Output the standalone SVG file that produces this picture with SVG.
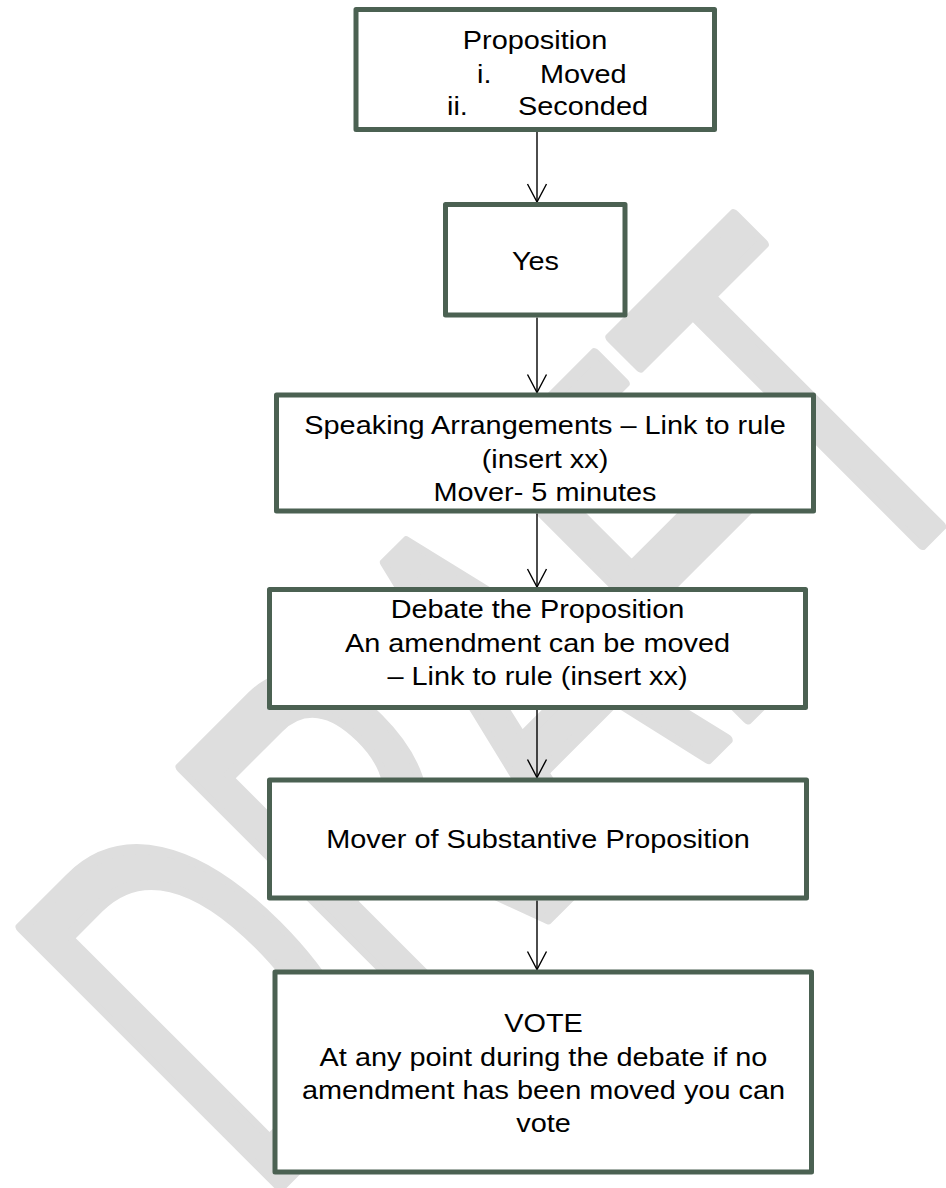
<svg xmlns="http://www.w3.org/2000/svg" width="946" height="1188" viewBox="0 0 946 1188">
  <defs>
    <style>
      .box { fill: #ffffff; stroke: #4b6152; stroke-width: 5; stroke-linejoin: round; }
      .lbl { font-family: "Liberation Sans", Arial, sans-serif; font-size: 26.5px; fill: #000000; }
      .mid { text-anchor: middle; }
      .conn { stroke: #000000; stroke-width: 1.4; fill: none; }
      .wm { font-family: "Liberation Sans", Arial, sans-serif; font-size: 531px; fill: #dedede; stroke: #dedede; stroke-width: 12; stroke-linejoin: round; }
    </style>
    <marker id="arrow" markerUnits="userSpaceOnUse" markerWidth="24" markerHeight="24" viewBox="-20 -12 24 24" refX="0" refY="0" orient="auto">
      <path d="M -18 -9.5 L 0 0 L -18 9.5" fill="none" stroke="#000000" stroke-width="1.4"/>
    </marker>
  </defs>
  <rect width="946" height="1188" fill="#ffffff"/>

  <g id="watermark">
    <text class="wm" x="-42" y="0" transform="translate(278,1188) rotate(-45) scale(0.59,1)">DRAFT</text>
  </g>

  <g id="connectors">
    <line class="conn" x1="537" y1="132" x2="537" y2="202" marker-end="url(#arrow)"/>
    <line class="conn" x1="537" y1="317.5" x2="537" y2="392.5" marker-end="url(#arrow)"/>
    <line class="conn" x1="537" y1="513.5" x2="537" y2="587" marker-end="url(#arrow)"/>
    <line class="conn" x1="537" y1="710" x2="537" y2="777.5" marker-end="url(#arrow)"/>
    <line class="conn" x1="537" y1="900.5" x2="537" y2="969.5" marker-end="url(#arrow)"/>
  </g>

  <g id="node-proposition">
    <rect class="box" x="356" y="9.5" width="358.5" height="120"/>
    <text class="lbl mid" transform="translate(535,49) scale(1.09,1)">Proposition</text>
    <text class="lbl" transform="translate(477,82.5) scale(1.09,1)">i.</text>
    <text class="lbl" transform="translate(540,82.5) scale(1.09,1)">Moved</text>
    <text class="lbl" transform="translate(447,115) scale(1.09,1)">ii.</text>
    <text class="lbl" transform="translate(518,115) scale(1.09,1)">Seconded</text>
  </g>

  <g id="node-yes">
    <rect class="box" x="445.5" y="204.5" width="179.5" height="110.5"/>
    <text class="lbl mid" transform="translate(535.5,270) scale(1.09,1)">Yes</text>
  </g>

  <g id="node-speaking">
    <rect class="box" x="276.5" y="395" width="537" height="116"/>
    <text class="lbl mid" transform="translate(545,434) scale(1.09,1)">Speaking Arrangements – Link to rule</text>
    <text class="lbl mid" transform="translate(545,467.5) scale(1.09,1)">(insert xx)</text>
    <text class="lbl mid" transform="translate(545,501) scale(1.09,1)">Mover- 5 minutes</text>
  </g>

  <g id="node-debate">
    <rect class="box" x="269.5" y="589.5" width="536" height="118"/>
    <text class="lbl mid" transform="translate(537.5,618) scale(1.09,1)">Debate the Proposition</text>
    <text class="lbl mid" transform="translate(537.5,651.5) scale(1.09,1)">An amendment can be moved</text>
    <text class="lbl mid" transform="translate(537.5,684.5) scale(1.09,1)">– Link to rule (insert xx)</text>
  </g>

  <g id="node-mover">
    <rect class="box" x="269.5" y="780" width="537" height="118"/>
    <text class="lbl mid" transform="translate(538,848) scale(1.09,1)">Mover of Substantive Proposition</text>
  </g>

  <g id="node-vote">
    <rect class="box" x="275" y="972" width="536.5" height="200"/>
    <text class="lbl mid" transform="translate(543.5,1032) scale(1.09,1)">VOTE</text>
    <text class="lbl mid" transform="translate(543.5,1065.5) scale(1.09,1)">At any point during the debate if no</text>
    <text class="lbl mid" transform="translate(543.5,1099) scale(1.09,1)">amendment has been moved you can</text>
    <text class="lbl mid" transform="translate(543.5,1132) scale(1.09,1)">vote</text>
  </g>
</svg>
